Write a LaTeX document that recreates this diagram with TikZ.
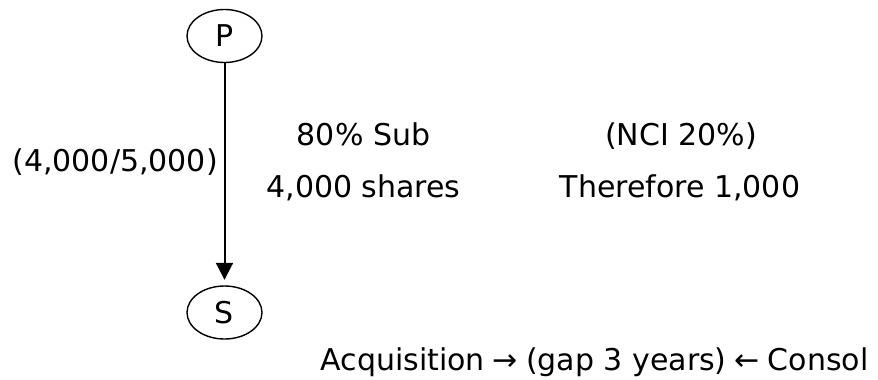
\documentclass[tikz,border=0pt]{standalone}
\usepackage{fontspec}
\setmainfont{DejaVu Sans}
\usetikzlibrary{shapes.geometric,arrows.meta}
\tikzset{
  ent/.style={draw, line width=1.4pt, ellipse, minimum width=75pt, minimum height=53pt, inner sep=0pt, font=\fontsize{30}{36}\selectfont},
  lbl/.style={anchor=base, inner sep=0pt, font=\fontsize{30}{36}\selectfont},
  link/.style={line width=2pt, -{Triangle[width=17pt,length=17pt]}, shorten >=5.5pt}
}
\begin{document}
\begin{tikzpicture}[x=1pt,y=-1pt]
\useasboundingbox (0,0) rectangle (878,380);
\node[ent] (P) at (224.5,36) {P};
\node[ent] (S) at (224.5,312.5) {S};
\draw[link] (P) -- (S);
\node[lbl, anchor=base east] (ratio) at (218,171) {(4,000/5,000)};
\node[lbl] (sub) at (363.5,145) {80\% Sub};
\node[lbl] (shares) at (363.5,197) {4,000 shares};
\node[lbl] (nci) at (681,145) {(NCI 20\%)};
\node[lbl] (there) at (680,197) {Therefore 1,000};
\node[lbl] (acq) at (594.5,370) {Acquisition\hspace{8pt}→\hspace{8pt}(gap 3 years)\hspace{8pt}←\hspace{8pt}Consol};
\end{tikzpicture}
\end{document}
